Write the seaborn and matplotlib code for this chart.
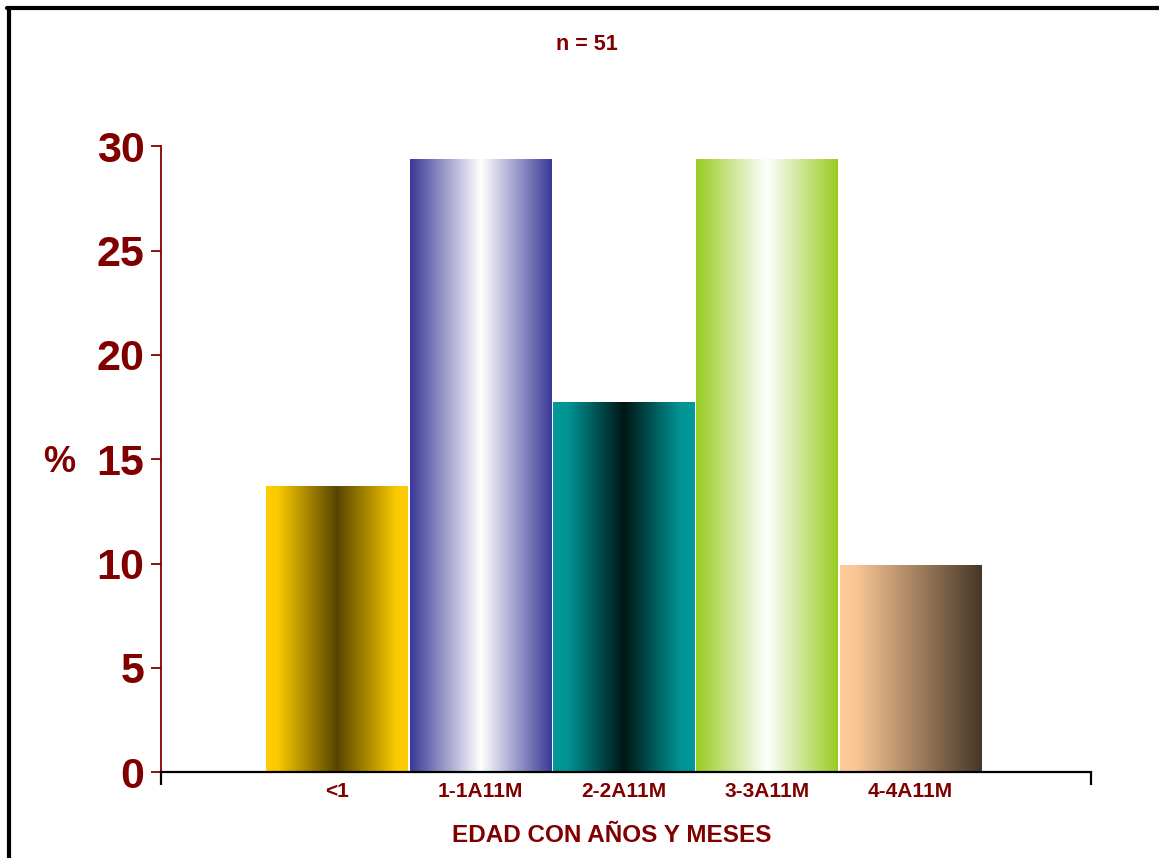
import numpy as np
import pandas as pd
import matplotlib
matplotlib.use("Agg")
import matplotlib.pyplot as plt
from matplotlib.colors import LinearSegmentedColormap
from matplotlib.lines import Line2D
import seaborn as sns

# Age groups and share of children (%), n = 51
categories = ["<1", "1-1A11M", "2-2A11M", "3-3A11M", "4-4A11M"]
percent = [13.7, 29.4, 17.7, 29.4, 9.9]
y_ticks = [0, 5, 10, 15, 20, 25, 30]

# Horizontal gradient stops (position, colour) for each bar
gradients = [
    [(0.0, "#FFCC00"), (0.08, "#FACA00"), (0.5, "#584400"), (0.92, "#FACA00"), (1.0, "#FFCC00")],
    [(0.0, "#3A3A98"), (0.5, "#FFFFFF"), (1.0, "#3A3A98")],
    [(0.0, "#009999"), (0.1, "#009494"), (0.5, "#001616"), (0.9, "#009494"), (1.0, "#009999")],
    [(0.0, "#99CC22"), (0.5, "#FFFFFF"), (1.0, "#99CC22")],
    [(0.0, "#FFCC99"), (0.12, "#F8C594"), (1.0, "#463628")],
]

DARK_RED = "#800000"

sns.set_theme(style="white")
plt.rcParams["font.family"] = ["Liberation Sans", "DejaVu Sans"]

df = pd.DataFrame({"grupo": categories, "pct": percent})

fig = plt.figure(figsize=(11.59, 8.58), dpi=100)
ax = fig.add_axes([161 / 1159, 86 / 858, 930 / 1159, 625.5 / 858])

sns.barplot(data=df, x="grupo", y="pct", ax=ax, width=0.988, color="white",
            linewidth=0, zorder=3)

# Paint each bar with its gradient
for patch, stops in zip(ax.patches, gradients):
    x0 = patch.get_x()
    w = patch.get_width()
    h = patch.get_height()
    cmap = LinearSegmentedColormap.from_list("g", stops)
    grad = np.linspace(0, 1, 512).reshape(1, -1)
    ax.imshow(grad, cmap=cmap, extent=[x0, x0 + w, 0, h], aspect="auto",
              zorder=2, interpolation="bilinear")
    patch.set_facecolor("none")

ax.set_xlim(-1.23, 5.26)
ax.set_ylim(0, 30)

sns.despine(ax=ax, top=True, right=True)
ax.spines["left"].set_color(DARK_RED)
ax.spines["left"].set_linewidth(1.3)
ax.spines["bottom"].set_color("black")
ax.spines["bottom"].set_linewidth(1.6)
ax.spines["bottom"].set_zorder(4)

ax.set_yticks(y_ticks)
ax.set_yticklabels([str(v) for v in y_ticks], fontsize=31, fontweight="bold",
                   color=DARK_RED)
ax.tick_params(axis="y", left=True, length=7, width=1.3, color=DARK_RED, pad=5)

ax.set_xticks(range(len(categories)))
ax.set_xticklabels(categories, fontsize=15, fontweight="bold", color=DARK_RED)
ax.tick_params(axis="x", bottom=True, length=0, pad=7)
ax.set_xticks([-1.23, 5.26], minor=True)
ax.tick_params(axis="x", which="minor", bottom=True, length=9, width=1.6,
               color="black", direction="out")

ax.set_xlabel("")
ax.set_ylabel("")
ax.grid(False)

fig.text(587 / 1159, 1 - 44 / 858, "n = 51", ha="center", va="center",
         fontsize=15.5, fontweight="bold", color=DARK_RED)
fig.text(59 / 1159, 1 - 462 / 858, "%", ha="center", va="center",
         fontsize=26, fontweight="bold", color=DARK_RED)
fig.text(612 / 1159, 1 - 835 / 858, "EDAD CON AÑOS Y MESES", ha="center",
         va="center", fontsize=17.5, fontweight="bold", color=DARK_RED)

# Outer frame on the left and top edges
fig.add_artist(Line2D([8.5 / 1159, 8.5 / 1159], [0, 1 - 7.5 / 858],
                      transform=fig.transFigure, color="black", linewidth=3))
fig.add_artist(Line2D([7 / 1159, 1], [1 - 7.5 / 858, 1 - 7.5 / 858],
                      transform=fig.transFigure, color="black", linewidth=3))

fig.savefig("out.png", dpi=100, facecolor="white")
